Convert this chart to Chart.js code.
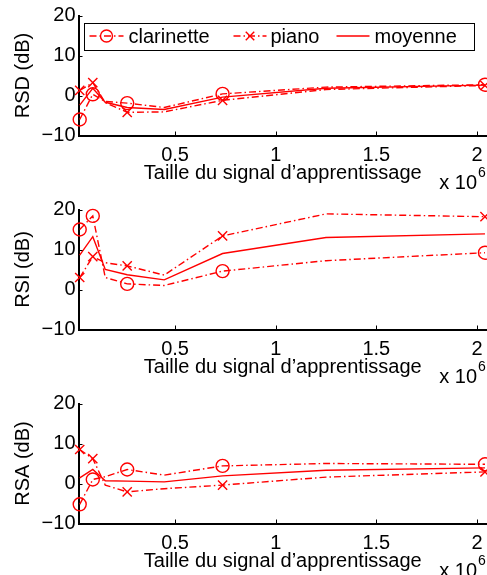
<!DOCTYPE html>
<html lang="fr">
<head>
    <meta charset="UTF-8">
    <title>RSD / RSI / RSA</title>
    <style>
        html, body {
            margin: 0;
            padding: 0;
            background: #fff;
            overflow: hidden;
        }
        .panel {
            position: absolute;
            left: 0;
            width: 487px;
            height: 192px;
        }
    </style>
    <script src="https://cdn.jsdelivr.net/npm/chart.js"></script>
</head>
<body>
    <div class="panel" style="top:0px"><canvas id="rsd" width="487" height="192"></canvas></div>
    <div class="panel" style="top:194px"><canvas id="rsi" width="487" height="192"></canvas></div>
    <div class="panel" style="top:388px"><canvas id="rsa" width="487" height="192"></canvas></div>

    <script>
        // taille du signal d'apprentissage (echantillons)
        const taille = [0.026e6, 0.091e6, 0.153e6, 0.262e6, 0.446e6, 0.736e6, 1.25e6, 2.04e6];

        const rsdClarinette = [-6.0, 0.3, -1.5, -1.9, -3.0, 0.4, 2.1, 2.7];
        const rsdPiano      = [1.3, 3.2, -1.8, -4.2, -4.1, -1.2, 1.5, 2.5];
        const rsdMoyenne    = [-2.4, 1.8, -1.7, -3.0, -3.5, -0.4, 1.8, 2.6];

        const rsiClarinette = [15.0, 18.4, 3.0, 1.4, 1.0, 4.6, 7.2, 9.2];
        const rsiPiano      = [3.0, 8.2, 6.7, 5.9, 3.6, 13.4, 18.9, 18.2];
        const rsiMoyenne    = [8.6, 13.2, 5.0, 3.7, 2.4, 9.0, 13.0, 13.9];

        const rsaClarinette = [-5.2, 1.0, 1.7, 3.5, 2.1, 4.4, 5.0, 4.8];
        const rsaPiano      = [8.5, 6.2, -0.4, -2.1, -1.3, -0.4, 1.6, 2.9];
        const rsaMoyenne    = [1.4, 3.5, 0.7, 0.6, 0.4, 1.9, 3.3, 3.9];

        const noms = ['clarinette', 'piano', 'moyenne'];
        const xTicks = [0.5e6, 1e6, 1.5e6, 2e6];
        const xTickLabels = ['0.5', '1', '1.5', '2'];
        const yTicks = [-10, 0, 10, 20];
        const yTickLabels = ['\u221210', '0', '10', '20'];
        const xTitre = 'Taille du signal d\u2019apprentissage';

        // only these points carry a marker
        const avecMarqueur = [0, 1, 3, 5, 7];

        const FONT = '"Liberation Sans", Arial, Helvetica, sans-serif';
        Chart.defaults.font.family = FONT;
        Chart.defaults.font.size = 20;
        Chart.defaults.color = '#000';

        const rouge = '#ff0000';
        const tiretPoint = [7, 3, 1.5, 3];

        function points(vals) {
            return vals.map((v, i) => ({ x: taille[i], y: v }));
        }

        function serie(label, vals, dash, style) {
            return {
                label: label,
                data: points(vals),
                borderColor: rouge,
                backgroundColor: 'rgba(0,0,0,0)',
                borderWidth: 1.4,
                borderDash: dash,
                pointStyle: style,
                pointRadius: style ? (c => avecMarqueur.includes(c.dataIndex) ? 6.5 : 0) : 0,
                pointBorderWidth: 1.4,
                pointBorderColor: rouge,
                pointBackgroundColor: 'rgba(0,0,0,0)',
                tension: 0,
                clip: false
            };
        }

        // inward ticks + "x 10^6" like matlab
        const axesMatlab = {
            id: 'axesMatlab',
            afterDraw(chart) {
                const { ctx, chartArea: a, scales: { x, y } } = chart;
                ctx.save();
                ctx.strokeStyle = '#000';
                ctx.lineWidth = 1;
                ctx.beginPath();
                x.ticks.forEach(t => {
                    const px = Math.round(x.getPixelForValue(t.value)) + 0.5;
                    ctx.moveTo(px, a.bottom);
                    ctx.lineTo(px, a.bottom - 4);
                });
                y.ticks.forEach(t => {
                    const py = Math.round(y.getPixelForValue(t.value)) + 0.5;
                    ctx.moveTo(a.left, py);
                    ctx.lineTo(a.left + 4, py);
                });
                ctx.stroke();

                ctx.fillStyle = '#000';
                ctx.font = '20px ' + FONT;
                ctx.textAlign = 'right';
                ctx.textBaseline = 'middle';
                ctx.fillText('x 10', a.right - 10, a.bottom + 47.5);
                ctx.font = '14px ' + FONT;
                ctx.textAlign = 'left';
                ctx.fillText('6', a.right - 9, a.bottom + 38);
                ctx.restore();
            }
        };

        const legende = {
            id: 'legende',
            afterDraw(chart) {
                const { ctx, chartArea: a } = chart;
                const bx = a.left + 5, by = a.top + 7, bw = 390, bh = 27;
                // sample start, sample end, text start (from the left axis)
                const slots = [[11, 45, 50], [155, 188, 192], [258, 291, 296]];
                ctx.save();
                ctx.fillStyle = '#fff';
                ctx.fillRect(bx, by, bw, bh);
                ctx.strokeStyle = '#000';
                ctx.lineWidth = 1;
                ctx.strokeRect(Math.round(bx) + 0.5, Math.round(by) + 0.5, bw, bh);
                const cy = by + bh / 2;
                chart.data.datasets.forEach((ds, i) => {
                    const [s0, s1, t0] = slots[i];
                    ctx.strokeStyle = ds.borderColor;
                    ctx.lineWidth = ds.borderWidth;
                    ctx.setLineDash(ds.borderDash || []);
                    ctx.beginPath();
                    ctx.moveTo(a.left + s0, cy);
                    ctx.lineTo(a.left + s1, cy);
                    ctx.stroke();
                    ctx.setLineDash([]);
                    if (ds.pointStyle) {
                        ctx.fillStyle = 'rgba(0,0,0,0)';
                        Chart.helpers.drawPoint(ctx, {
                            pointStyle: ds.pointStyle,
                            radius: 6,
                            borderWidth: ds.pointBorderWidth,
                            rotation: 0
                        }, a.left + (s0 + s1) / 2, cy);
                    }
                    ctx.fillStyle = '#000';
                    ctx.font = '20px ' + FONT;
                    ctx.textAlign = 'left';
                    ctx.textBaseline = 'middle';
                    ctx.fillText(ds.label, a.left + t0, cy + 1);
                });
                ctx.restore();
            }
        };

        function panneau(id, titreY, clar, piano, moy, avecLegende) {
            const plugins = [axesMatlab];
            if (avecLegende) plugins.push(legende);
            return new Chart(document.getElementById(id), {
                type: 'line',
                data: {
                    datasets: [
                        serie(noms[0], clar, tiretPoint, 'circle'),
                        serie(noms[1], piano, tiretPoint, 'crossRot'),
                        serie(noms[2], moy, [], false)
                    ]
                },
                options: {
                    responsive: false,
                    animation: false,
                    layout: {
                        autoPadding: false,
                        padding: { top: 15.5, bottom: 6.5, left: 0, right: 0 }
                    },
                    plugins: {
                        legend: { display: false },
                        tooltip: { enabled: false }
                    },
                    scales: {
                        x: {
                            type: 'linear',
                            min: 0.02e6,
                            max: 2.05e6,
                            afterBuildTicks: s => { s.ticks = xTicks.map(v => ({ value: v })); },
                            afterFit: s => {
                                s.height = 50;
                                s.paddingLeft = 0;
                                s.paddingRight = 0;
                            },
                            grid: { display: false, drawTicks: false },
                            border: { display: true, color: '#000', width: 2 },
                            ticks: {
                                padding: 8,
                                maxRotation: 0,
                                autoSkip: false,
                                callback: v => xTickLabels[xTicks.indexOf(v)]
                            },
                            title: { display: true, text: xTitre, padding: { top: 0, bottom: 0 } }
                        },
                        y: {
                            min: -10,
                            max: 20,
                            afterBuildTicks: s => { s.ticks = yTicks.map(v => ({ value: v })); },
                            afterFit: s => {
                                s.width = 78.5;
                                s.paddingTop = 0;
                                s.paddingBottom = 0;
                            },
                            grid: { display: false, drawTicks: false },
                            border: { display: true, color: '#000', width: 2 },
                            ticks: {
                                padding: 3,
                                callback: v => yTickLabels[yTicks.indexOf(v)]
                            },
                            title: { display: true, text: titreY, padding: { top: 11, bottom: 0 } }
                        }
                    }
                },
                plugins: plugins
            });
        }

        panneau('rsd', 'RSD (dB)', rsdClarinette, rsdPiano, rsdMoyenne, true);
        panneau('rsi', 'RSI (dB)', rsiClarinette, rsiPiano, rsiMoyenne, false);
        panneau('rsa', 'RSA (dB)', rsaClarinette, rsaPiano, rsaMoyenne, false);
    </script>
</body>
</html>
